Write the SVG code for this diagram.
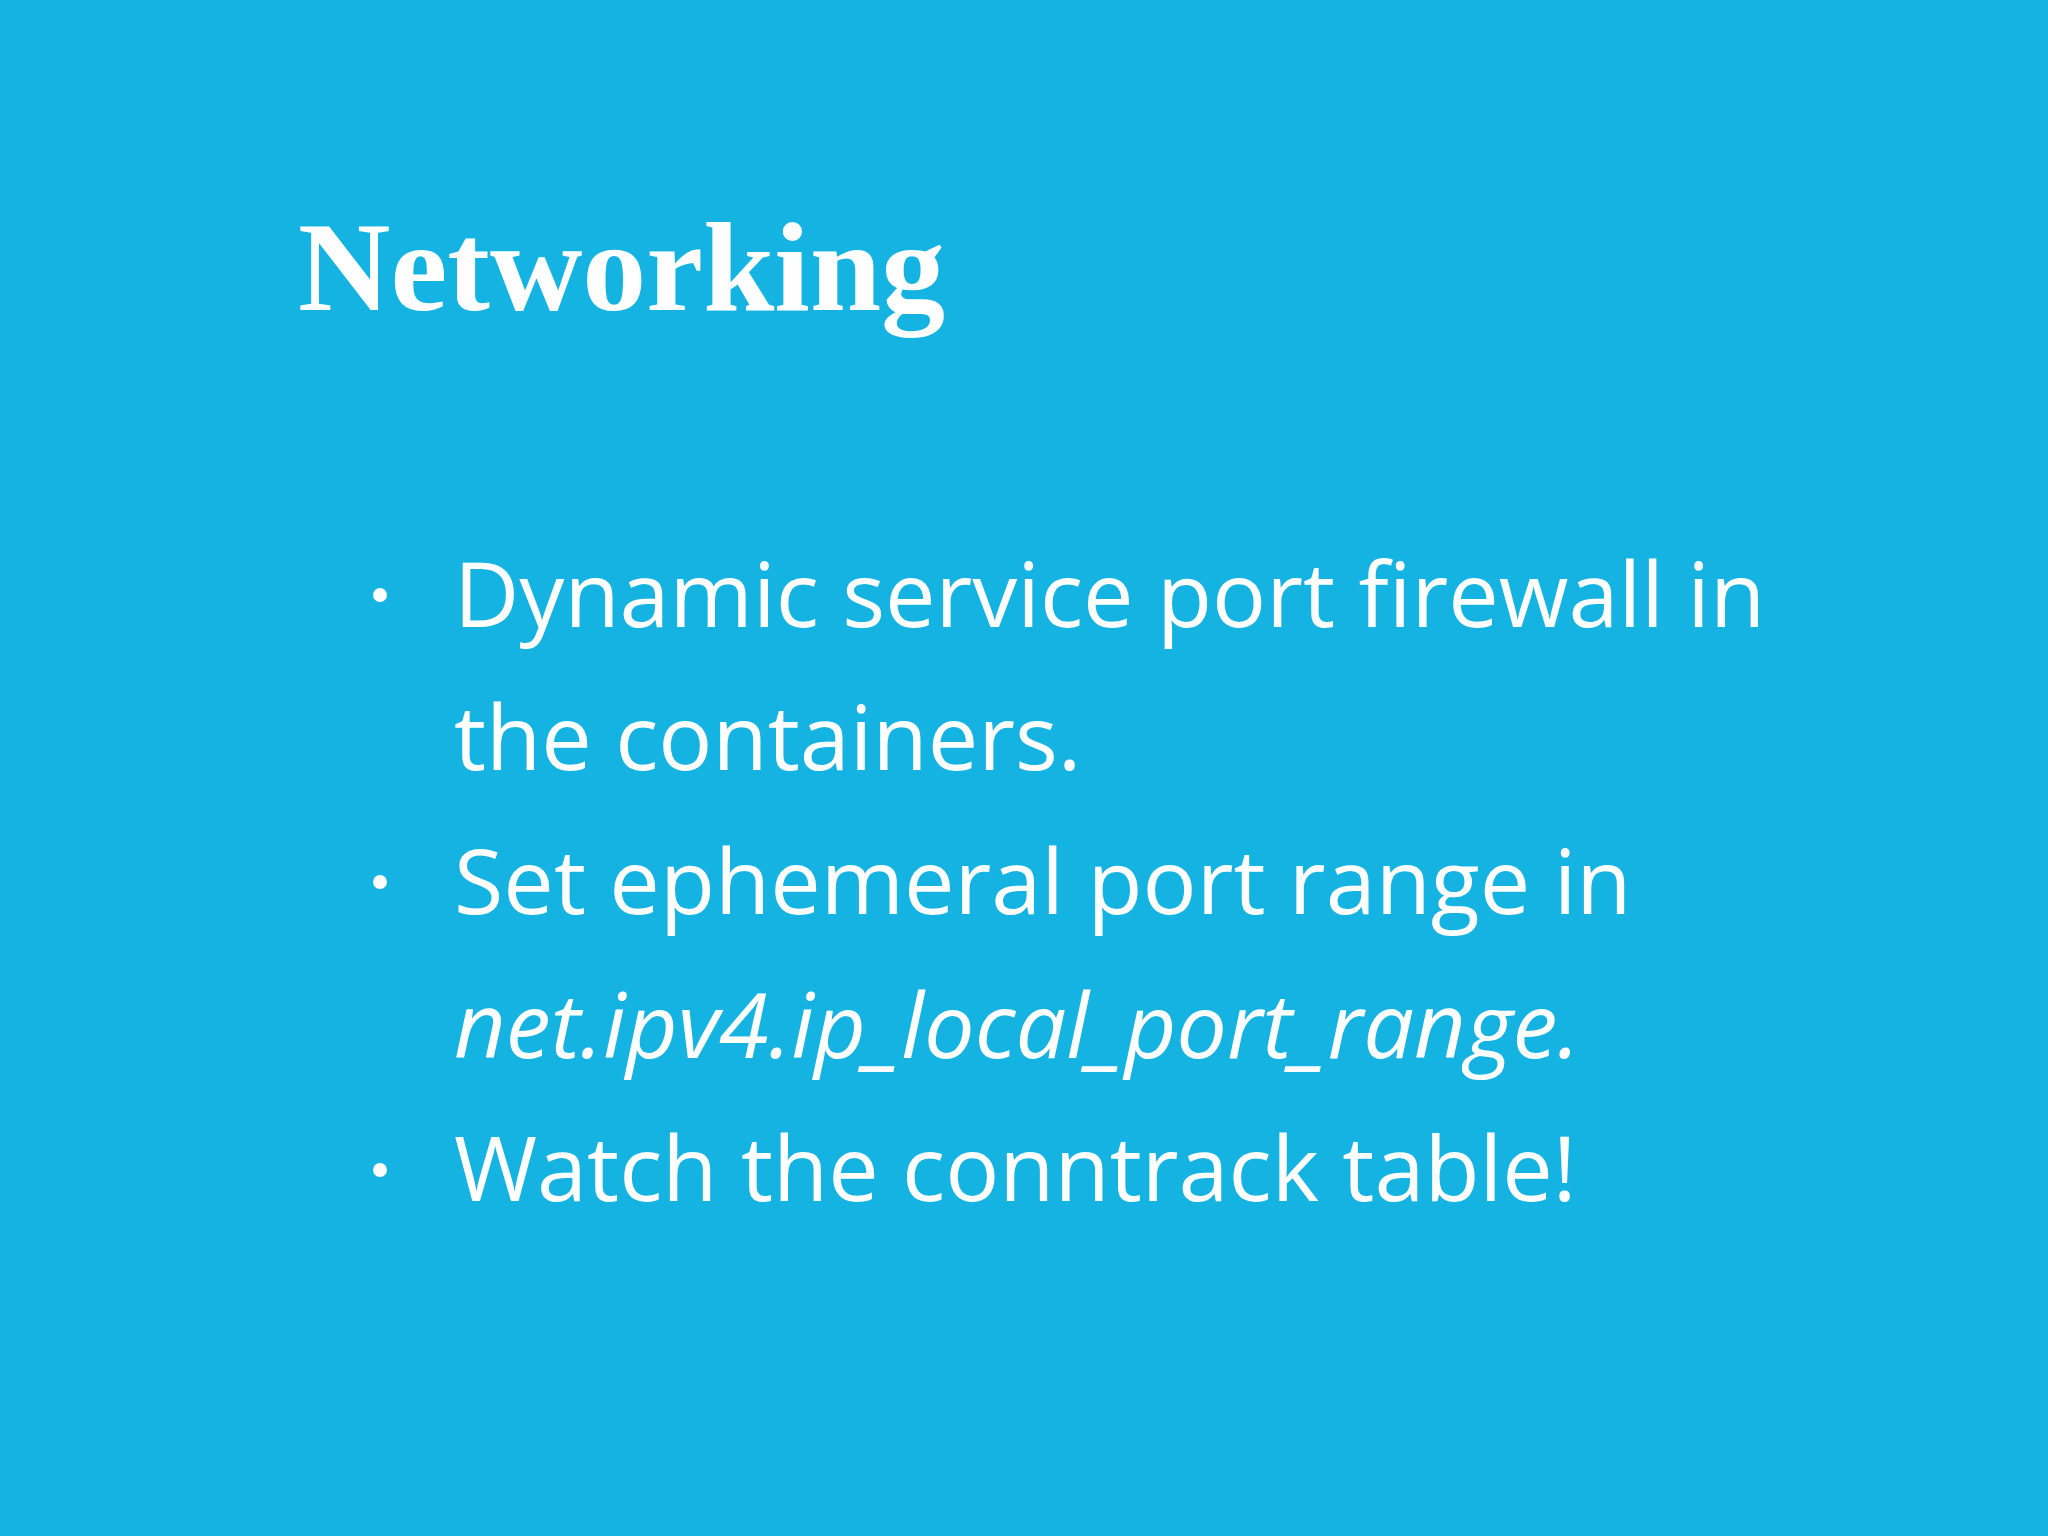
<svg xmlns="http://www.w3.org/2000/svg" width="2048" height="1536" viewBox="0 0 2048 1536">
<style>
.b{font-family:"Open Sans",sans-serif;font-size:90px;fill:#fff}
.t{font-family:"Liberation Serif","DejaVu Serif",serif;font-weight:bold;font-size:128px;fill:#fff}
</style>
<rect width="2048" height="1536" fill="#15b3e2"/>
<text class="t" x="298" y="310">Networking</text>
<g fill="#fff"><circle cx="380" cy="595" r="7"/><circle cx="380" cy="882" r="7"/><circle cx="380" cy="1170" r="7"/></g>
<text class="b" x="454" y="627">Dynamic service port firewall in</text>
<text class="b" x="454" y="770">the containers.</text>
<text class="b" x="454" y="914">Set ephemeral port range in</text>
<text class="b" x="454" y="1058" font-style="italic">net.ipv4.ip_local_port_range.</text>
<text class="b" x="454" y="1201">Watch the conntrack table!</text>
</svg>
